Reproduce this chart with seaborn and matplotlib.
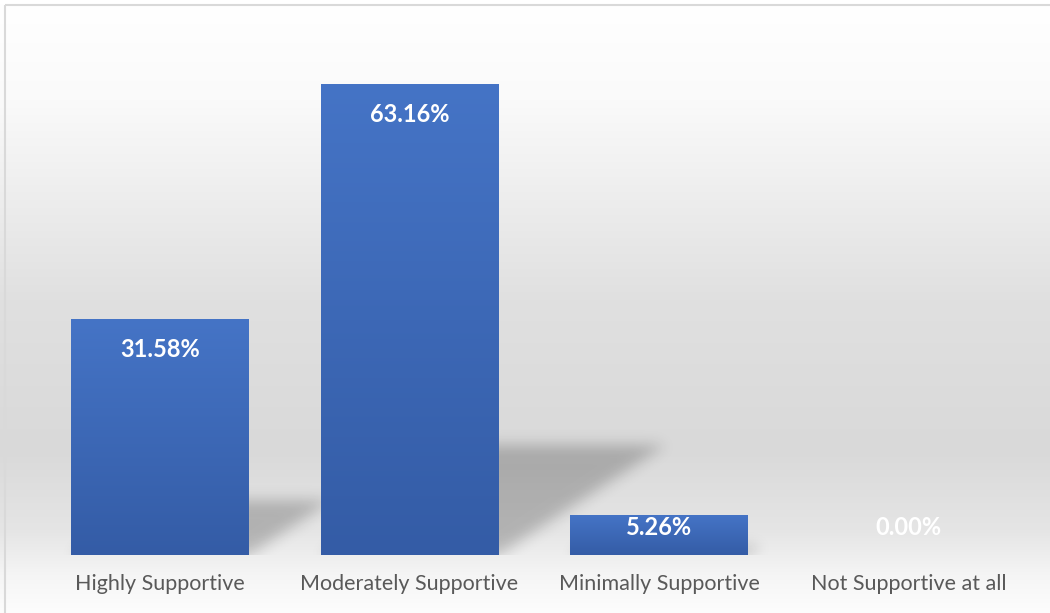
import numpy as np
import matplotlib
matplotlib.use("Agg")
import matplotlib.pyplot as plt
import pandas as pd
import seaborn as sns
from matplotlib.colors import LinearSegmentedColormap
from matplotlib.patches import Rectangle

# ---- data -------------------------------------------------------------
categories = ["Highly Supportive", "Moderately Supportive",
              "Minimally Supportive", "Not Supportive at all"]
shares = [31.58, 63.16, 5.26, 0.00]
value_labels = ["31.58%", "63.16%", "5.26%", "0.00%"]

# ---- style ------------------------------------------------------------
sns.set_theme(style="white")
plt.rcParams["font.family"] = ["Lato", "DejaVu Sans"]

W, H = 1050, 613
fig = plt.figure(figsize=(W / 100, H / 100), dpi=100)

# backdrop: soft vertical grey gradient with a thin frame
bg = fig.add_axes([0, 0, 1, 1])
bg.set_axis_off()
stops_y = np.array([0, 5, 100, 300, 450, 530, 575, 613])
stops_g = np.array([255, 255, 250, 224, 217, 229, 245, 253]) / 255
rows = np.interp(np.arange(H) + 0.5, stops_y, stops_g)
bg_img = np.dstack([rows[:, None]] * 3)
bg.imshow(bg_img, extent=(0, W, H, 0), aspect="auto", interpolation="bilinear")
bg.add_patch(Rectangle((5, 5), W + 20, H + 20, fill=False,
                       ec="#d9d9d9", lw=1.5))
bg.set_xlim(0, W)
bg.set_ylim(H, 0)

# ---- main axes ---------------------------------------------------------
ax_left, ax_w = 35.25, 998.0
ax_bottom, ax_h = H - 555, 521.0
ax = fig.add_axes([ax_left / W, ax_bottom / H, ax_w / W, ax_h / H])
ax.patch.set_alpha(0)

bar_width = 0.713
YMAX = 70
XLIM = (-0.5, len(categories) - 0.5)

df = pd.DataFrame({"category": categories, "share": shares})
sns.barplot(data=df, x="category", y="share", color="#4472c4",
            width=bar_width, saturation=1, linewidth=0, ax=ax, zorder=3)

# cast shadows: each bar projected onto the floor, sheared to the right
nx, ny = int(ax_w), int(ax_h)
gx = XLIM[0] + (np.arange(nx) + 0.5) * (XLIM[1] - XLIM[0]) / nx
gy = (np.arange(ny) + 0.5) * YMAX / ny
GX, GY = np.meshgrid(gx, gy)
px_per_x = ax_w / (XLIM[1] - XLIM[0])
px_per_y = ax_h / YMAX
shear = 1.52 * px_per_y / px_per_x      # x data units per y data unit
squash = 0.234                          # shadow height relative to bar
mask = np.zeros_like(GX)
for i, v in enumerate(shares):
    inside = (GY <= v * squash) & (np.abs(GX - shear * GY - i) <= bar_width / 2)
    mask[inside] = 1.0


def blur(a, sigma):
    r = int(3 * sigma)
    k = np.exp(-0.5 * (np.arange(-r, r + 1) / sigma) ** 2)
    k /= k.sum()
    a = np.apply_along_axis(lambda m: np.convolve(m, k, mode="same"), 1, a)
    a = np.apply_along_axis(lambda m: np.convolve(m, k, mode="same"), 0, a)
    return a


soft = blur(mask, 7)
shadow = np.zeros((ny, nx, 4))
shadow[..., 3] = 0.22 * soft
ax.imshow(shadow, extent=(XLIM[0], XLIM[1], 0, YMAX), origin="lower",
          aspect="auto", zorder=1, interpolation="bilinear")

# vertical gradient fill on each bar
bar_cmap = LinearSegmentedColormap.from_list("bar", ["#345ca6", "#4574c6"])
grad = np.linspace(0, 1, 256)[:, None]
for p in ax.patches:
    h = p.get_height()
    if h > 0:
        x0 = p.get_x()
        ax.imshow(grad, extent=(x0, x0 + p.get_width(), 0, h), origin="lower",
                  cmap=bar_cmap, aspect="auto", zorder=3.5)

# value labels inside the top of each bar
for i, (v, lab) in enumerate(zip(shares, value_labels)):
    y = max(v - 37.5 / px_per_y, 20 / px_per_y)
    ax.text(i, y, lab, ha="center", va="baseline", color="white",
            fontsize=17, fontweight="bold", zorder=5)

ax.set_xlim(*XLIM)
ax.set_ylim(0, YMAX)
ax.set_xlabel("")
ax.set_ylabel("")
ax.set_yticks([])
ax.tick_params(axis="x", length=0, pad=14, labelsize=15.5, labelcolor="#595959")
for s in ax.spines.values():
    s.set_visible(False)

fig.savefig("out.png", dpi=100)
